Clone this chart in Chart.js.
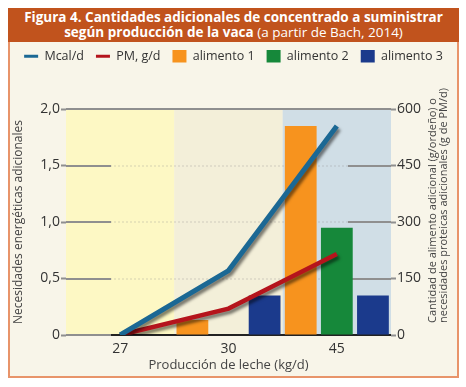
<!DOCTYPE html>
<html>
<head>
<meta charset="utf-8">
<script src="https://cdn.jsdelivr.net/npm/chart.js@4"></script>
<style>
  body { margin: 0; background: #fff; font-family: "Open Sans", sans-serif; }
  #frame {
    position: absolute; left: 8px; top: 8px; width: 447px; height: 368px;
    border: 2px solid #e8946a; border-top: none; background: #f8f5e9;
  }
  #title {
    position: absolute; left: -2px; top: 0; width: 451px; height: 34px;
    background: #c1531d; color: #fff; text-align: center;
    font-size: 13.5px; line-height: 15px; padding-top: 2px; box-sizing: border-box;
  }
  #title b { font-weight: 700; }
  #title span { font-weight: 400; }
  #wrap { position: absolute; left: 0; top: 30px; width: 447px; height: 338px; }
</style>
</head>
<body>
<div id="frame">
  <div id="title"><b>Figura 4. Cantidades adicionales de concentrado a suministrar<br>según producción de la vaca</b> <span>(a partir de Bach, 2014)</span></div>
  <div id="wrap"><canvas id="myChart" width="447" height="338"></canvas></div>
</div>
<script>
// chart data
const labels = ['27', '30', '45'];
const mcal = [0, 0.57, 1.85];        // left axis
const pm = [0, 70, 215];             // right axis
const alimento1 = [0, 40, 555];
const alimento2 = [0, 0, 285];
const alimento3 = [0, 105, 105];
const leftTicks = [0, 0.5, 1, 1.5, 2];
const rightTicks = [0, 150, 300, 450, 600];

const bandColors = ['#fdf8c4', '#f3efd9', '#d0dee6'];
const textColor = '#333';

function fmtLeft(v) {
    return v === 0 ? '0' : v.toFixed(1).replace('.', ',');
}

// backgrounds per category + grid lines
const bandsPlugin = {
    id: 'bands',
    afterInit(chart) {
        // leave room between the legend and the plot
        const legend = chart.legend;
        const fit = legend.fit;
        legend.fit = function() {
            fit.call(this);
            this.height = 71;
        };
    },
    beforeDatasetsDraw(chart) {
        const ctx = chart.ctx;
        const xs = chart.scales.x, ys = chart.scales.y, area = chart.chartArea;
        const half = (xs.getPixelForValue(1) - xs.getPixelForValue(0)) / 2;
        ctx.save();
        labels.forEach((l, i) => {
            const c = xs.getPixelForValue(i);
            ctx.fillStyle = bandColors[i];
            ctx.fillRect(c - half, area.top, half * 2, area.bottom - area.top);
        });
        leftTicks.forEach(v => {
            const y = Math.round(ys.getPixelForValue(v));
            ctx.lineWidth = 2;
            ctx.strokeStyle = '#8f8f8f';
            if (v === 2) {
                ctx.beginPath(); ctx.moveTo(area.left, y); ctx.lineTo(area.right, y); ctx.stroke();
                return;
            }
            ctx.setLineDash([2, 2]);
            ctx.lineWidth = 1;
            ctx.strokeStyle = 'rgba(140,140,140,0.35)';
            ctx.beginPath(); ctx.moveTo(area.left, y); ctx.lineTo(area.right, y); ctx.stroke();
            ctx.setLineDash([]);
            ctx.lineWidth = 2;
            ctx.strokeStyle = '#8f8f8f';
            ctx.beginPath(); ctx.moveTo(area.left, y); ctx.lineTo(area.left + 45, y); ctx.stroke();
            ctx.beginPath(); ctx.moveTo(area.right - 43, y); ctx.lineTo(area.right, y); ctx.stroke();
        });
        // base line
        ctx.strokeStyle = '#222';
        ctx.lineWidth = 2;
        ctx.beginPath(); ctx.moveTo(area.left + 45, area.bottom); ctx.lineTo(area.right, area.bottom); ctx.stroke();
        ctx.restore();
    },
    beforeDatasetDraw(chart, args) {
        if (args.meta.type === 'line') {
            const ctx = chart.ctx;
            ctx.save();
            ctx.shadowColor = 'rgba(0,0,0,0.5)';
            ctx.shadowBlur = 3;
            ctx.shadowOffsetX = 2;
            ctx.shadowOffsetY = 3;
        }
    },
    afterDatasetDraw(chart, args) {
        if (args.meta.type === 'line') chart.ctx.restore();
    },
    afterDraw(chart) {
        // right axis title, reading bottom to top
        const ctx = chart.ctx, area = chart.chartArea;
        ctx.save();
        ctx.fillStyle = '#444';
        ctx.font = '11px "Open Sans"';
        ctx.textAlign = 'left';
        ctx.textBaseline = 'middle';
        ctx.translate(area.right + 42, area.bottom - 12);
        ctx.rotate(-Math.PI / 2);
        ctx.fillText('Cantidad de alimento adicional (g/ordeño) o', 0, 0);
        ctx.fillText('necesidades proteicas adicionales (g de PM/d)', 0, 11);
        ctx.restore();
    }
};

Chart.defaults.font.family = '"Open Sans", sans-serif';
Chart.defaults.color = textColor;

var ctx = document.getElementById('myChart').getContext('2d');
var myChart = new Chart(ctx, {
    type: 'bar',
    data: {
        labels: labels,
        datasets: [
            { type: 'line', label: 'Mcal/d', data: mcal, yAxisID: 'y', borderColor: '#1b6894', backgroundColor: '#1b6894',
              borderWidth: 5, pointRadius: 0, pointStyle: 'line', tension: 0, order: 0 },
            { type: 'line', label: 'PM, g/d', data: pm, yAxisID: 'y1', borderColor: '#b5141c', backgroundColor: '#b5141c',
              borderWidth: 4.5, pointRadius: 0, pointStyle: 'line', tension: 0, order: 0 },
            { label: 'alimento 1', data: alimento1, yAxisID: 'y1', backgroundColor: '#f7931e', order: 1 },
            { label: 'alimento 2', data: alimento2, yAxisID: 'y1', backgroundColor: '#16883a', order: 1 },
            { label: 'alimento 3', data: alimento3, yAxisID: 'y1', backgroundColor: '#1b3a8c', order: 1 }
        ]
    },
    options: {
        responsive: false,
        animation: false,
        datasets: { bar: { categoryPercentage: 1, barPercentage: 0.88 } },
        layout: { padding: 0 },
        plugins: {
            tooltip: { enabled: false },
            legend: {
                position: 'top',
                labels: {
                    usePointStyle: true, pointStyleWidth: 14, boxWidth: 14, boxHeight: 13,
                    padding: 12, color: textColor, font: { size: 12.5 },
                    generateLabels(chart) {
                        const items = Chart.defaults.plugins.legend.labels.generateLabels(chart);
                        items.forEach((it, i) => {
                            it.pointStyle = i < 2 ? 'line' : 'rect';
                            if (i < 2) it.lineWidth = 3;
                        });
                        return items;
                    }
                }
            }
        },
        scales: {
            x: {
                grid: { display: false, drawTicks: false },
                border: { display: false },
                ticks: { padding: 6, color: textColor, font: { size: 14 } },
                title: { display: true, text: 'Producción de leche (kg/d)', color: '#444', font: { size: 13 }, padding: { top: 0, bottom: 3 } },
                afterFit(s) { s.height = 41; }
            },
            y: {
                position: 'left', min: 0, max: 2,
                afterBuildTicks(s) { s.ticks = leftTicks.map(v => ({ value: v })); },
                grid: { drawOnChartArea: false, tickLength: 5, tickColor: '#8f8f8f', tickWidth: 2 },
                border: { display: false },
                ticks: { padding: 1, color: textColor, font: { size: 14 }, callback: v => fmtLeft(v) },
                title: { display: true, text: 'Necesidades energéticas adicionales', color: '#444', font: { size: 12 }, padding: { top: 1, bottom: 0 } },
                afterFit(s) { s.width = 56; }
            },
            y1: {
                position: 'right', min: 0, max: 600,
                afterBuildTicks(s) { s.ticks = rightTicks.map(v => ({ value: v })); },
                grid: { drawOnChartArea: false, tickLength: 5, tickColor: '#8f8f8f', tickWidth: 2 },
                border: { display: false },
                ticks: { padding: 1, color: textColor, font: { size: 14 } },
                afterFit(s) { s.width = 66; }
            }
        }
    },
    plugins: [bandsPlugin]
});
</script>
</body>
</html>
